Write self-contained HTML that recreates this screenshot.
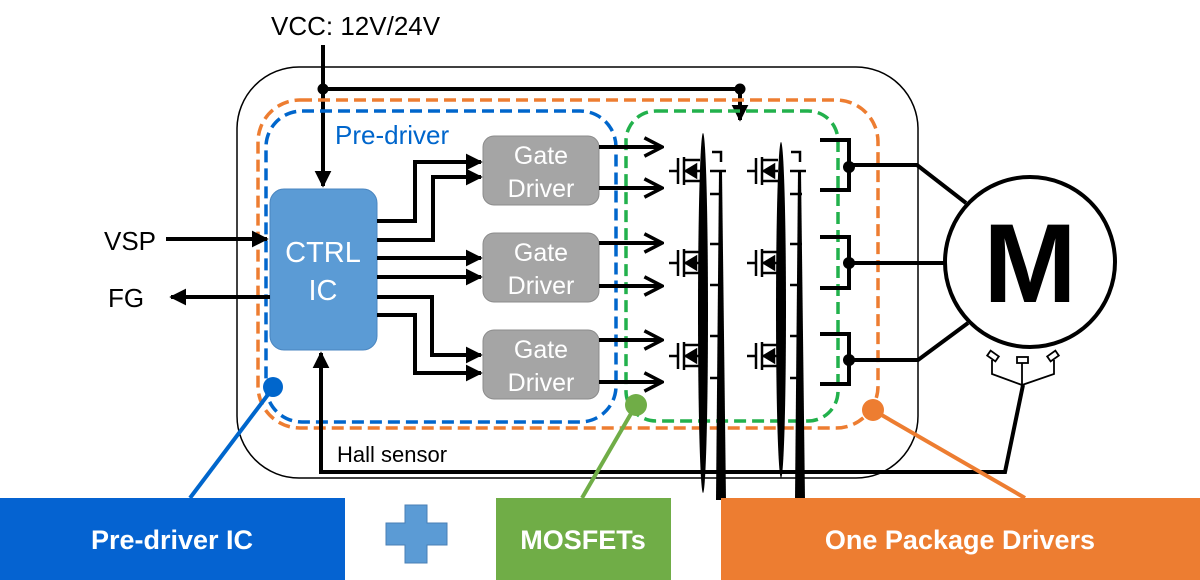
<!DOCTYPE html>
<html><head><meta charset="utf-8"><style>
html,body{margin:0;padding:0;background:#fff;width:1200px;height:580px;overflow:hidden}
svg{display:block}
text{font-family:"Liberation Sans",sans-serif}
</style></head><body>
<svg width="1200" height="580" viewBox="0 0 1200 580" xmlns="http://www.w3.org/2000/svg">
<defs>
<marker id="a" viewBox="0 0 10 10" refX="9" refY="5" markerWidth="4.2" markerHeight="4.2" orient="auto" markerUnits="strokeWidth"><path d="M0,0 L10,5 L0,10 Z" fill="#000"/></marker>
<marker id="c" viewBox="0 0 10 10" refX="9" refY="5" markerWidth="5.5" markerHeight="5.5" orient="auto" markerUnits="strokeWidth"><path d="M1,0.8 L9,5 L1,9.2" fill="none" stroke="#000" stroke-width="1.6"/></marker>
</defs>
<rect x="237" y="67" width="681" height="411" rx="62" fill="none" stroke="#000" stroke-width="1.5"/>
<text x="271" y="35" font-size="26">VCC: 12V/24V</text>
<line x1="323" y1="45" x2="323" y2="186" stroke="#000" stroke-width="4" marker-end="url(#a)"/>
<polyline points="323,89 740,89 740,120" fill="none" stroke="#000" stroke-width="4" marker-end="url(#a)"/>
<circle cx="323" cy="89" r="5.5"/><circle cx="740" cy="89" r="5.5"/>
<rect x="258" y="100" width="620" height="328" rx="42" fill="none" stroke="#ed7d31" stroke-width="3.5" stroke-dasharray="12,6"/>
<rect x="266" y="111" width="350" height="311" rx="36" fill="none" stroke="#0066cc" stroke-width="3.5" stroke-dasharray="12,6"/>
<rect x="626" y="111" width="212" height="310" rx="30" fill="none" stroke="#22b14c" stroke-width="3.5" stroke-dasharray="12,6"/>
<text x="335" y="144" font-size="26" fill="#0066cc">Pre-driver</text>
<rect x="270" y="189" width="107" height="161" rx="14" fill="#5b9bd5" stroke="#4a86c0" stroke-width="1"/>
<text x="323" y="262" font-size="29" fill="#fff" text-anchor="middle">CTRL</text>
<text x="323" y="300" font-size="29" fill="#fff" text-anchor="middle">IC</text>
<text x="104" y="250" font-size="26">VSP</text>
<text x="108" y="307" font-size="26">FG</text>
<line x1="166" y1="239" x2="267" y2="239" stroke="#000" stroke-width="4" marker-end="url(#a)"/>
<line x1="270" y1="297" x2="171" y2="297" stroke="#000" stroke-width="4" marker-end="url(#a)"/>
<g fill="none" stroke="#000" stroke-width="4">
<polyline points="377,221 415,221 415,162 481,162" marker-end="url(#a)"/>
<polyline points="377,240 433,240 433,177 481,177" marker-end="url(#a)"/>
<polyline points="377,258 481,258" marker-end="url(#a)"/>
<polyline points="377,277 481,277" marker-end="url(#a)"/>
<polyline points="377,297 432,297 432,355 481,355" marker-end="url(#a)"/>
<polyline points="377,315 415,315 415,373 481,373" marker-end="url(#a)"/>
</g>
<g font-size="25" fill="#fff" text-anchor="middle">
<rect x="483" y="136" width="116" height="69" rx="11" fill="#a5a5a5" stroke="#8c8c8c"/>
<text x="541" y="164">Gate</text><text x="541" y="197">Driver</text>
<rect x="483" y="233" width="116" height="69" rx="11" fill="#a5a5a5" stroke="#8c8c8c"/>
<text x="541" y="261">Gate</text><text x="541" y="294">Driver</text>
<rect x="483" y="330" width="116" height="69" rx="11" fill="#a5a5a5" stroke="#8c8c8c"/>
<text x="541" y="358">Gate</text><text x="541" y="391">Driver</text>
</g>
<g stroke="#000" stroke-width="4" fill="none">
<line x1="599" y1="147" x2="662" y2="147" marker-end="url(#c)"/>
<line x1="599" y1="188" x2="662" y2="188" marker-end="url(#c)"/>
<line x1="599" y1="243" x2="662" y2="243" marker-end="url(#c)"/>
<line x1="599" y1="286" x2="662" y2="286" marker-end="url(#c)"/>
<line x1="599" y1="340" x2="662" y2="340" marker-end="url(#c)"/>
<line x1="599" y1="382" x2="662" y2="382" marker-end="url(#c)"/>
</g>
<g id="m" stroke="#000" stroke-width="2.5" fill="none">
<line x1="669" y1="171" x2="678" y2="171"/>
<line x1="678" y1="158" x2="678" y2="184"/>
<line x1="684" y1="157" x2="684" y2="185"/>
<polyline points="684,160 700,160"/>
<polyline points="684,181 700,181"/>
<line x1="684" y1="171" x2="700" y2="171"/>
<path d="M686,171 L696,165 L696,177 Z" fill="#000"/>
</g>
<use href="#m" x="0" y="92"/><use href="#m" x="0" y="185"/>
<use href="#m" x="78" y="0"/><use href="#m" x="78" y="92"/><use href="#m" x="78" y="185"/>
<ellipse cx="703" cy="313" rx="5" ry="180" fill="#000"/>
<ellipse cx="781" cy="310" rx="5" ry="168" fill="#000"/>
<path d="M719,170 L722,170 L726,500 L716,500 Z" fill="#000"/>
<path d="M798,170 L801,170 L805,500 L795,500 Z" fill="#000"/>
<g stroke="#000" stroke-width="2.5" fill="none">
<polyline points="712,152 721,152 721,162"/><polyline points="791,152 800,152 800,162"/>
<line x1="710" y1="171" x2="726" y2="171"/><line x1="790" y1="171" x2="806" y2="171"/>
<line x1="710" y1="194" x2="722" y2="194"/><line x1="790" y1="194" x2="802" y2="194"/>
<line x1="710" y1="244" x2="722" y2="244"/><line x1="790" y1="244" x2="802" y2="244"/>
<line x1="710" y1="285" x2="722" y2="285"/><line x1="790" y1="285" x2="802" y2="285"/>
<line x1="710" y1="336" x2="722" y2="336"/><line x1="790" y1="336" x2="802" y2="336"/>
<line x1="710" y1="378" x2="722" y2="378"/><line x1="790" y1="378" x2="802" y2="378"/>
</g>
<g stroke="#000" stroke-width="4" fill="none">
<polyline points="820,140 849,140 849,190 820,190"/>
<polyline points="820,237 849,237 849,288 820,288"/>
<polyline points="820,334 849,334 849,384 820,384"/>
<polyline points="849,165 917,165 966,203"/>
<polyline points="849,263 945,263"/>
<polyline points="849,360 918,360 968,323"/>
</g>
<circle cx="849" cy="167" r="6"/><circle cx="849" cy="263" r="6"/><circle cx="849" cy="360" r="6"/>
<circle cx="1030" cy="262" r="85" fill="#fff" stroke="#000" stroke-width="4"/>
<text x="1030" y="302" font-size="112" font-weight="bold" text-anchor="middle">M</text>
<g stroke="#000" stroke-width="1.8" fill="#fff">
<rect x="988" y="353" width="10" height="6" transform="rotate(35 993 356)"/>
<rect x="1017" y="357" width="11" height="6"/>
<rect x="1048" y="353" width="10" height="6" transform="rotate(-35 1053 356)"/>
<polyline points="992,360 992,374 1022,385 1054,374 1054,360" fill="none"/>
<line x1="1022" y1="363" x2="1022" y2="385"/>
</g>
<polyline points="1023,385 1005,472 321,472 321,353" fill="none" stroke="#000" stroke-width="4" marker-end="url(#a)"/>
<text x="337" y="462" font-size="22">Hall sensor</text>
<line x1="273" y1="388" x2="190" y2="498" stroke="#0066cc" stroke-width="4"/>
<circle cx="273" cy="387" r="10" fill="#0066cc"/>
<line x1="636" y1="405" x2="582" y2="498" stroke="#70ad47" stroke-width="4"/>
<circle cx="636" cy="405" r="11" fill="#70ad47"/>
<line x1="873" y1="410" x2="1025" y2="498" stroke="#ed7d31" stroke-width="4"/>
<circle cx="873" cy="410" r="11" fill="#ed7d31"/>
<rect x="0" y="498" width="345" height="82" fill="#0563d1"/>
<text x="172" y="549" font-size="27" font-weight="bold" fill="#fff" text-anchor="middle">Pre-driver IC</text>
<path d="M405,505 H427 V523 H447 V545 H427 V563 H405 V545 H386 V523 H405 Z" fill="#5b9bd5" stroke="#4a7fb5" stroke-width="1"/>
<rect x="496" y="498" width="175" height="82" fill="#70ad47"/>
<text x="583" y="549" font-size="27" font-weight="bold" fill="#fff" text-anchor="middle">MOSFETs</text>
<rect x="721" y="498" width="479" height="82" fill="#ed7d31"/>
<text x="960" y="549" font-size="27" font-weight="bold" fill="#fff" text-anchor="middle">One Package Drivers</text>
</svg>
</body></html>
